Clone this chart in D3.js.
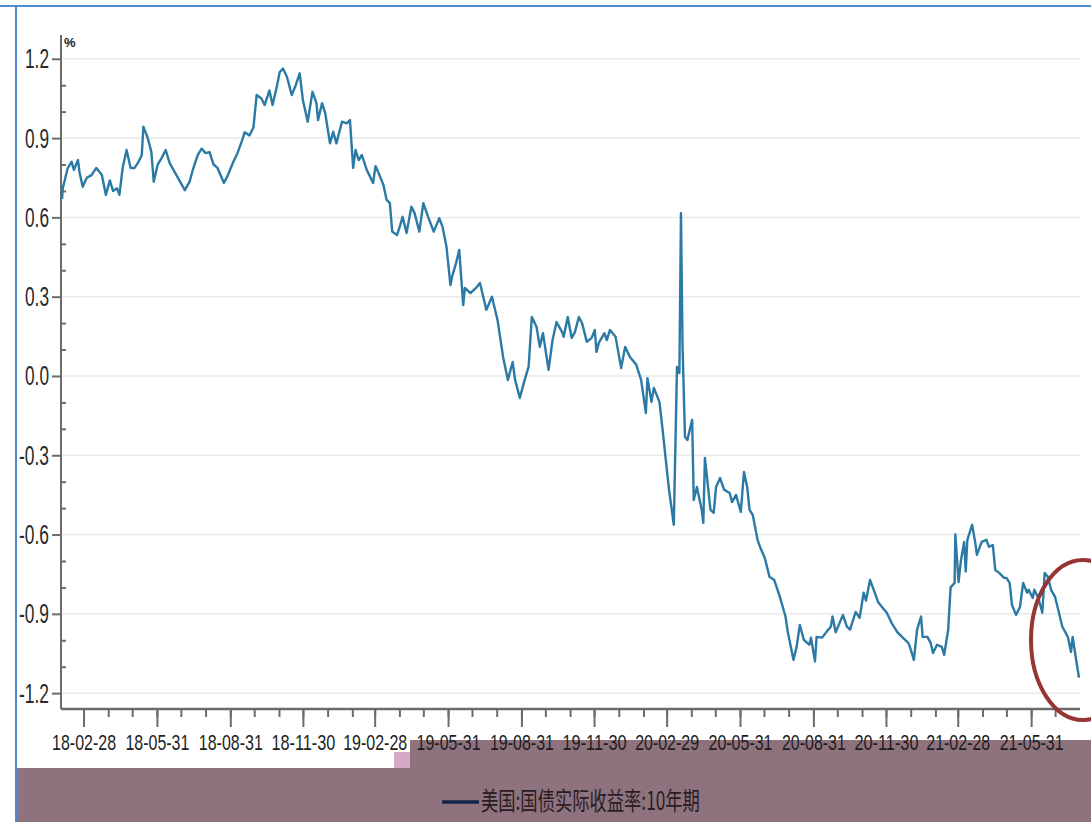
<!DOCTYPE html>
<html>
<head>
<meta charset="utf-8">
<script src="https://cdn.jsdelivr.net/npm/d3@7"></script>
<style>
  html, body { margin: 0; padding: 0; background: #fff; }
  svg { display: block; }
</style>
</head>
<body>
<svg id="chart" width="1091" height="822"></svg>
<script>
// ---------------- DATA ----------------
const seriesName = "美国:国债实际收益率:10年期";
const unitLabel = "%";
const yTicks = [1.2, 0.9, 0.6, 0.3, 0.0, -0.3, -0.6, -0.9, -1.2];
const xTickLabels = ["18-02-28","18-05-31","18-08-31","18-11-30","19-02-28","19-05-31","19-08-31",
  "19-11-30","20-02-29","20-05-31","20-08-31","20-11-30","21-02-28","21-05-31"];
const realYield10y = [
["2018-02-01",0.67],["2018-02-02",0.71],["2018-02-08",0.785],["2018-02-13",0.81],["2018-02-16",0.78],
["2018-02-21",0.817],["2018-02-23",0.77],["2018-02-27",0.716],["2018-03-04",0.75],["2018-03-10",0.76],
["2018-03-16",0.787],["2018-03-23",0.76],["2018-03-28",0.685],["2018-04-02",0.74],["2018-04-06",0.70],
["2018-04-11",0.71],["2018-04-14",0.685],["2018-04-18",0.787],["2018-04-23",0.855],["2018-04-28",0.787],
["2018-05-03",0.787],["2018-05-07",0.805],["2018-05-12",0.835],["2018-05-14",0.943],["2018-05-19",0.905],
["2018-05-24",0.848],["2018-05-27",0.735],["2018-06-01",0.80],["2018-06-06",0.825],["2018-06-11",0.855],
["2018-06-16",0.805],["2018-06-22",0.773],["2018-06-29",0.735],["2018-07-05",0.703],["2018-07-11",0.735],
["2018-07-15",0.78],["2018-07-21",0.835],["2018-07-26",0.86],["2018-07-31",0.843],["2018-08-05",0.847],
["2018-08-10",0.80],["2018-08-15",0.787],["2018-08-23",0.73],["2018-08-28",0.76],["2018-09-03",0.805],
["2018-09-09",0.843],["2018-09-14",0.885],["2018-09-18",0.922],["2018-09-24",0.91],["2018-09-29",0.94],
["2018-10-03",1.063],["2018-10-09",1.05],["2018-10-13",1.025],["2018-10-19",1.08],["2018-10-23",1.025],
["2018-10-28",1.09],["2018-11-01",1.15],["2018-11-05",1.163],["2018-11-10",1.132],["2018-11-16",1.063],
["2018-11-21",1.10],["2018-11-26",1.145],["2018-11-30",1.044],["2018-12-06",0.962],["2018-12-12",1.075],
["2018-12-17",1.032],["2018-12-19",0.968],["2018-12-24",1.032],["2018-12-28",0.994],["2019-01-03",0.88],
["2019-01-07",0.924],["2019-01-11",0.88],["2019-01-18",0.962],["2019-01-24",0.956],["2019-01-28",0.968],
["2019-02-01",0.787],["2019-02-04",0.855],["2019-02-08",0.817],["2019-02-12",0.836],["2019-02-18",0.78],
["2019-02-26",0.73],["2019-03-01",0.794],["2019-03-06",0.76],["2019-03-11",0.722],["2019-03-15",0.666],
["2019-03-19",0.654],["2019-03-22",0.546],["2019-03-28",0.533],["2019-04-01",0.571],["2019-04-04",0.602],
["2019-04-09",0.541],["2019-04-15",0.64],["2019-04-19",0.616],["2019-04-25",0.546],["2019-04-30",0.654],
["2019-05-06",0.602],["2019-05-13",0.546],["2019-05-20",0.597],["2019-05-24",0.565],["2019-05-29",0.489],
["2019-06-03",0.344],["2019-06-05",0.375],["2019-06-10",0.427],["2019-06-14",0.477],["2019-06-19",0.268],
["2019-06-21",0.333],["2019-06-28",0.313],["2019-07-05",0.333],["2019-07-10",0.352],["2019-07-18",0.25],
["2019-07-25",0.30],["2019-08-01",0.212],["2019-08-08",0.072],["2019-08-14",-0.015],["2019-08-20",0.053],
["2019-08-23",-0.015],["2019-08-29",-0.083],["2019-09-03",-0.026],["2019-09-09",0.035],["2019-09-13",0.223],
["2019-09-19",0.185],["2019-09-23",0.11],["2019-09-27",0.162],["2019-10-04",0.023],["2019-10-09",0.136],
["2019-10-14",0.204],["2019-10-21",0.166],["2019-10-23",0.148],["2019-10-28",0.223],["2019-11-02",0.144],
["2019-11-06",0.166],["2019-11-11",0.223],["2019-11-15",0.20],["2019-11-21",0.129],["2019-11-27",0.144],
["2019-12-01",0.174],["2019-12-03",0.091],["2019-12-06",0.125],["2019-12-13",0.162],["2019-12-16",0.136],
["2019-12-20",0.174],["2019-12-27",0.148],["2020-01-03",0.03],["2020-01-08",0.11],["2020-01-14",0.072],
["2020-01-22",0.042],["2020-01-28",-0.015],["2020-02-03",-0.14],["2020-02-05",-0.008],["2020-02-10",-0.098],
["2020-02-13",-0.045],["2020-02-20",-0.098],["2020-02-24",-0.204],["2020-02-27",-0.29],["2020-03-03",-0.43],
["2020-03-09",-0.563],["2020-03-12",-0.117],["2020-03-13",0.034],["2020-03-16",0.011],["2020-03-18",0.616],
["2020-03-20",0.11],["2020-03-23",-0.23],["2020-03-26",-0.242],["2020-04-01",-0.166],["2020-04-03",-0.469],
["2020-04-07",-0.42],["2020-04-13",-0.507],["2020-04-15",-0.556],["2020-04-17",-0.31],["2020-04-24",-0.507],
["2020-04-28",-0.518],["2020-05-01",-0.42],["2020-05-06",-0.386],["2020-05-11",-0.43],["2020-05-18",-0.443],
["2020-05-21",-0.477],["2020-05-26",-0.45],["2020-06-01",-0.514],["2020-06-05",-0.363],["2020-06-09",-0.42],
["2020-06-12",-0.507],["2020-06-16",-0.526],["2020-06-22",-0.62],["2020-06-25",-0.646],["2020-07-01",-0.688],
["2020-07-07",-0.76],["2020-07-13",-0.772],["2020-07-20",-0.836],["2020-07-27",-0.91],["2020-07-30",-0.97],
["2020-08-06",-1.074],["2020-08-10",-1.025],["2020-08-14",-0.942],["2020-08-19",-0.998],["2020-08-26",-1.017],
["2020-08-28",-0.99],["2020-09-02",-1.08],["2020-09-04",-0.987],["2020-09-11",-0.99],["2020-09-16",-0.97],
["2020-09-22",-0.948],["2020-09-24",-0.91],["2020-09-28",-0.97],["2020-10-07",-0.904],["2020-10-12",-0.948],
["2020-10-16",-0.96],["2020-10-23",-0.893],["2020-10-28",-0.915],["2020-11-02",-0.82],["2020-11-05",-0.85],
["2020-11-10",-0.772],["2020-11-16",-0.82],["2020-11-20",-0.855],["2020-11-25",-0.874],["2020-12-01",-0.896],
["2020-12-07",-0.934],["2020-12-14",-0.968],["2020-12-21",-0.99],["2020-12-28",-1.01],["2020-12-30",-1.025],
["2021-01-04",-1.074],["2021-01-08",-0.96],["2021-01-13",-0.91],["2021-01-15",-0.987],["2021-01-21",-0.987],
["2021-01-25",-1.01],["2021-01-28",-1.048],["2021-02-02",-1.017],["2021-02-08",-1.025],["2021-02-11",-1.055],
["2021-02-16",-0.96],["2021-02-19",-0.80],["2021-02-24",-0.783],["2021-02-25",-0.60],["2021-03-01",-0.78],
["2021-03-04",-0.697],["2021-03-08",-0.628],["2021-03-10",-0.74],["2021-03-12",-0.62],["2021-03-18",-0.563],
["2021-03-22",-0.632],["2021-03-24",-0.677],["2021-03-30",-0.628],["2021-04-05",-0.62],["2021-04-08",-0.646],
["2021-04-13",-0.64],["2021-04-16",-0.734],["2021-04-21",-0.745],["2021-04-27",-0.764],["2021-04-30",-0.764],
["2021-05-04",-0.783],["2021-05-07",-0.866],["2021-05-12",-0.904],["2021-05-17",-0.874],["2021-05-21",-0.783],
["2021-05-26",-0.82],["2021-05-28",-0.809],["2021-06-02",-0.84],["2021-06-04",-0.809],["2021-06-09",-0.84],
["2021-06-14",-0.896],["2021-06-17",-0.745],["2021-06-21",-0.76],["2021-06-25",-0.809],["2021-06-30",-0.836],
["2021-07-06",-0.91],["2021-07-09",-0.948],["2021-07-16",-0.987],["2021-07-20",-1.044],["2021-07-22",-0.987],
["2021-07-27",-1.085],["2021-07-30",-1.142]
];

// ---------------- LAYOUT ----------------
const svg = d3.select("#chart");
const W = 1091, H = 822;
const plot = { left: 61, right: 1080, top: 35, bottom: 709 };
const parseDate = d3.timeParse("%Y-%m-%d");
const parseTick = d3.timeParse("%y-%m-%d");
const data = realYield10y.map(d => ({ date: parseDate(d[0]), value: d[1] }));

const x = d3.scaleTime()
  .domain(d3.extent(data, d => d.date))
  .range([plot.left + 1, plot.right - 1]);
const y = d3.scaleLinear().domain([-1.26, 1.29]).range([plot.bottom, plot.top]);

const labelFont = "'Liberation Sans', Arial, sans-serif";

// squeeze a text element horizontally to a target width, keeping its anchor point
function squeeze(sel, targetW) {
  sel.each(function(d) {
    const t = d3.select(this);
    const w = this.getComputedTextLength();
    const tw = typeof targetW === "function" ? targetW(d) : targetW;
    const sx = tw / w;
    const x0 = +t.attr("x") || 0;
    t.attr("x", x0 / sx).attr("transform", `scale(${sx},1)`);
  });
}

// background
svg.append("rect").attr("width", W).attr("height", H).attr("fill", "#fff");

// purple legend band
const purple = "#8e727d";
svg.append("rect").attr("x", 17).attr("y", 768).attr("width", W - 17).attr("height", H - 768).attr("fill", purple);
svg.append("rect").attr("x", 410).attr("y", 740).attr("width", W - 410).attr("height", 30).attr("fill", purple);
svg.append("rect").attr("x", 394).attr("y", 752).attr("width", 16).attr("height", 16).attr("fill", "#d7a9c7");

// gridlines
svg.append("g").selectAll("line").data(yTicks).join("line")
  .attr("x1", plot.left).attr("x2", plot.right)
  .attr("y1", d => y(d)).attr("y2", d => y(d))
  .attr("stroke", "#e9e9e9").attr("stroke-width", 1.5);

// Y axis
const yMinor = d3.range(-12, 13).map(i => i / 10).filter(v => Math.round(v * 10) % 3 !== 0);
const yAxisG = svg.append("g").attr("transform", `translate(${plot.left},0)`);
yAxisG.append("line").attr("x1", 0).attr("x2", 0).attr("y1", plot.top).attr("y2", plot.bottom)
  .attr("stroke", "#6b6b6b").attr("stroke-width", 2);
yAxisG.append("g").call(d3.axisRight(y).tickValues(yMinor).tickSize(5).tickFormat(""))
  .call(g => g.select(".domain").remove())
  .call(g => g.selectAll("line").attr("stroke", "#6b6b6b").attr("stroke-width", 2));
yAxisG.append("g").call(d3.axisLeft(y).tickValues(yTicks).tickSize(9).tickPadding(3).tickFormat(d => d.toFixed(1)))
  .call(g => g.select(".domain").remove())
  .call(g => g.selectAll("line").attr("stroke", "#6b6b6b").attr("stroke-width", 2))
  .call(g => g.selectAll("text")
    .attr("font-family", labelFont).attr("font-size", 28).attr("fill", "#2a2a2a")
    .call(squeeze, d => (d < 0 ? 30 : 24)));

// unit label
svg.append("text").attr("x", 64).attr("y", 47).text(unitLabel)
  .attr("font-family", labelFont).attr("font-size", 13).attr("font-weight", "bold").attr("fill", "#222");

// X axis
const majorDates = xTickLabels.map(parseTick);
const monthEnds = d3.timeMonth.range(new Date(2018, 1, 1), new Date(2021, 7, 1))
  .map(d => d3.timeDay.offset(d3.timeMonth.offset(d, 1), -1))
  .filter(d => d >= x.domain()[0] && d <= x.domain()[1]);
const xAxisG = svg.append("g").attr("transform", `translate(0,${plot.bottom})`);
xAxisG.append("g").call(d3.axisBottom(x).tickValues(monthEnds).tickSize(8).tickFormat(""))
  .call(g => g.select(".domain").remove())
  .call(g => g.selectAll("line").attr("stroke", "#6b6b6b").attr("stroke-width", 2));
xAxisG.append("g").call(d3.axisBottom(x).tickValues(majorDates).tickSize(18).tickPadding(7)
    .tickFormat(d3.timeFormat("%y-%m-%d")))
  .call(g => g.select(".domain").remove())
  .call(g => g.selectAll("line").attr("stroke", "#6b6b6b").attr("stroke-width", 2))
  .call(g => g.selectAll("text")
    .attr("font-family", labelFont).attr("font-size", 22).attr("fill", "#1e1e1e")
    .call(squeeze, 64));
xAxisG.append("line").attr("x1", plot.left).attr("x2", plot.right).attr("y1", 0).attr("y2", 0)
  .attr("stroke", "#6b6b6b").attr("stroke-width", 2.5);

// series line
const line = d3.line().x(d => x(d.date)).y(d => y(d.value));
svg.append("path").datum(data).attr("d", line)
  .attr("fill", "none").attr("stroke", "#2b7aa5").attr("stroke-width", 2.4)
  .attr("stroke-linejoin", "round");

// legend
svg.append("line").attr("x1", 442).attr("x2", 479).attr("y1", 802).attr("y2", 802)
  .attr("stroke", "#14244a").attr("stroke-width", 3.5);
svg.append("text").attr("x", 481).attr("y", 803).attr("dominant-baseline", "middle")
  .text(seriesName)
  .attr("font-family", "'Noto Sans CJK SC', sans-serif").attr("font-size", 25).attr("fill", "#2a1c22")
  .call(squeeze, 219);

// frame lines
svg.append("line").attr("x1", 0).attr("x2", W).attr("y1", 6).attr("y2", 6)
  .attr("stroke", "#4f89d2").attr("stroke-width", 2);
svg.append("line").attr("x1", 16).attr("x2", 16).attr("y1", 6).attr("y2", H)
  .attr("stroke", "#4f89d2").attr("stroke-width", 2);

// highlight ellipse
svg.append("ellipse").attr("cx", 1083).attr("cy", 640).attr("rx", 52).attr("ry", 80)
  .attr("fill", "none").attr("stroke", "#973434").attr("stroke-width", 4);
</script>
</body>
</html>
